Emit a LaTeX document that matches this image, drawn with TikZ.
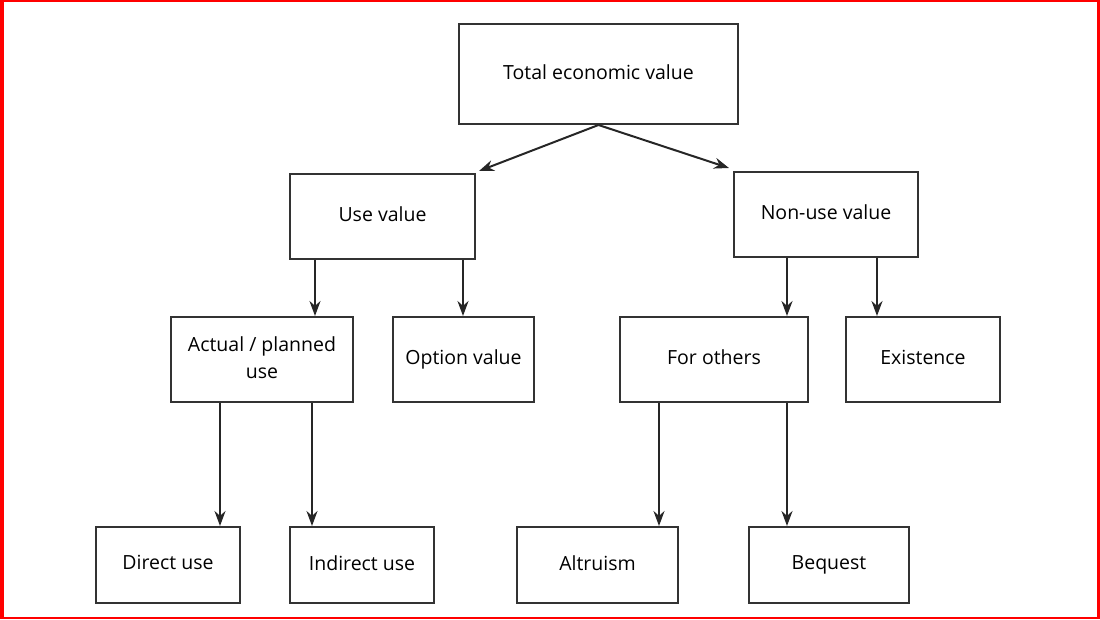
\documentclass[tikz,border=0pt]{standalone}
\usepackage{fontspec}
\setmainfont{Open Sans}
\usepackage{tikz}
\usetikzlibrary{arrows.meta}
\tikzset{
    base_box/.style={rectangle, draw=black!80, line width=2pt, fill=white, align=center, inner sep=2pt, font=\fontsize{19.5}{27}\selectfont, execute at begin node=\vphantom{Bp}},
    mid_box/.style={base_box, minimum height=85pt},
    low_box/.style={base_box, minimum width=144pt, minimum height=76pt},
    edge_arrow/.style={-{Stealth[length=15pt, width=11pt]}, line width=2pt, draw=black!85}
}

\begin{document}
\begin{tikzpicture}[x=1pt, y=-1pt]
    \useasboundingbox (0,0) rectangle (1100,620);
    \draw[red, line width=3.5pt] (1.75,1.5) -- (1.75,618.5);
    \draw[red, line width=2.5pt] (0,1.25) -- (1098.5,1.25) -- (1098.5,618) -- (0,618);
    % top
    \node[base_box, minimum width=279pt, minimum height=100pt] (tev) at (598.5,74) {Total economic value};
    % second row
    \node[mid_box, minimum width=185pt] (use_val) at (382.5,216.5) {Use value};
    \node[mid_box, minimum width=184pt] (nonuse_val) at (826,214.5) {Non-use value};
    % third row
    \node[mid_box, minimum width=182pt] (actual) at (262,359.5) {Actual / planned\\use};
    \node[mid_box, minimum width=141pt] (option) at (463.5,359.5) {Option value};
    \node[mid_box, minimum width=188pt] (others) at (714,359.5) {For others};
    \node[mid_box, minimum width=154pt] (existence) at (923,359.5) {Existence};
    % bottom row
    \node[low_box] (direct) at (168,565) {Direct use};
    \node[low_box] (indirect) at (362,565) {Indirect use};
    \node[low_box, minimum width=161pt] (altruism) at (597.5,565) {Altruism};
    \node[low_box, minimum width=160pt] (bequest) at (829,565) {Bequest};
    % arrows
    \draw[edge_arrow] (tev.south) -- ([xshift=3pt, yshift=2pt]use_val.north east);
    \draw[edge_arrow] (tev.south) -- ([xshift=-4pt, yshift=3pt]nonuse_val.north west);
    \draw[edge_arrow] (use_val.south -| 315,0) -- (actual.north -| 315,0);
    \draw[edge_arrow] (use_val.south -| 463,0) -- (option.north -| 463,0);
    \draw[edge_arrow] (nonuse_val.south -| 787,0) -- (others.north -| 787,0);
    \draw[edge_arrow] (nonuse_val.south -| 877,0) -- (existence.north -| 877,0);
    \draw[edge_arrow] (actual.south -| 220,0) -- (direct.north -| 220,0);
    \draw[edge_arrow] (actual.south -| 312,0) -- (indirect.north -| 312,0);
    \draw[edge_arrow] (others.south -| 659,0) -- (altruism.north -| 659,0);
    \draw[edge_arrow] (others.south -| 787,0) -- (bequest.north -| 787,0);
\end{tikzpicture}
\end{document}
